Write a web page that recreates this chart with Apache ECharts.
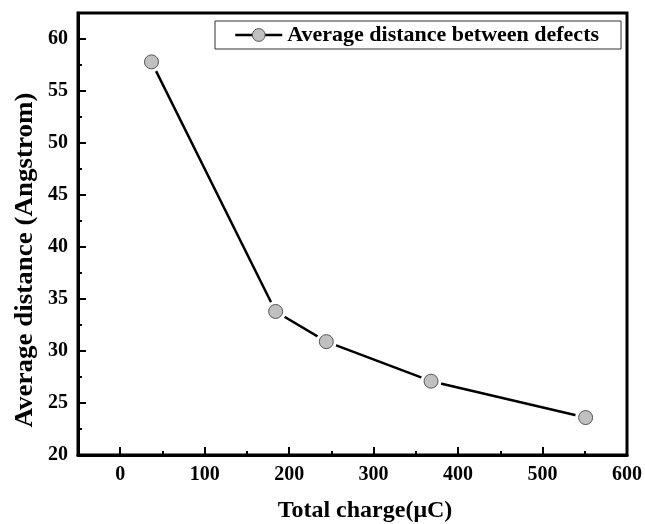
<!DOCTYPE html>
<html>
<head>
<meta charset="utf-8">
<script src="https://cdn.jsdelivr.net/npm/echarts@6/dist/echarts.min.js"></script>
<style>html,body{margin:0;padding:0;background:#fff;}#c{width:645px;height:524px;}</style>
</head>
<body>
<div id="c"></div>
<script>
const seriesName = 'Average distance between defects';
const totalCharge = [37, 184, 244, 368, 551];
const avgDistance = [57.8, 33.8, 30.9, 27.1, 23.6];
const xTicks = [0, 100, 200, 300, 400, 500, 600];
const xMinorTicks = [50, 150, 250, 350, 450, 550];
const yTicks = [20, 25, 30, 35, 40, 45, 50, 55, 60];
const yMinorTicks = [22.5, 27.5, 32.5, 37.5, 42.5, 47.5, 52.5, 57.5];
const xTitle = 'Total charge(μC)';
const yTitle = 'Average distance (Angstrom)';

const points = totalCharge.map((x, i) => [x, avgDistance[i]]);
const FONT = '"Liberation Serif", "Times New Roman", serif';
const labelStyle = { fontFamily: FONT, fontWeight: 'bold', fontSize: 20, color: '#000' };

const chart = echarts.init(document.getElementById('c'));
chart.setOption({
  animation: false,
  backgroundColor: '#fff',
  grid: { left: 78, top: 13, right: 18, bottom: 69, show: true, borderColor: '#000', borderWidth: 3, backgroundColor: 'transparent' },
  legend: {
    left: 215, top: 21,
    padding: [3, 22, 3, 19],
    borderColor: '#333', borderWidth: 1,
    itemWidth: 47, itemHeight: 16,
    textStyle: { fontFamily: FONT, fontWeight: 'bold', fontSize: 22, lineHeight: 22, color: '#000' },
    data: [{ name: seriesName, itemStyle: { color: '#c0c0c0', borderColor: '#555', borderWidth: 1 }, lineStyle: { color: '#000', width: 2.5 } }]
  },
  xAxis: [
    {
      type: 'value', min: -50, max: 600, position: 'bottom',
      axisLine: { show: true, onZero: false, lineStyle: { color: '#000', width: 3 } },
      axisTick: { show: true, inside: true, length: 8, lineStyle: { color: '#000', width: 2 }, customValues: xTicks },
      minorTick: { show: false },
      axisLabel: Object.assign({ margin: 10, customValues: xTicks }, labelStyle),
      splitLine: { show: false }
    },
    {
      type: 'value', min: -50, max: 600, position: 'bottom',
      axisLine: { show: false, onZero: false },
      axisTick: { show: true, inside: true, length: 4, lineStyle: { color: '#000', width: 2 }, customValues: xMinorTicks },
      axisLabel: { show: false },
      splitLine: { show: false }
    }
  ],
  yAxis: [
    {
      type: 'value', min: 20, max: 62.5, position: 'left',
      axisLine: { show: true, onZero: false, lineStyle: { color: '#000', width: 3 } },
      axisTick: { show: true, inside: true, length: 8, lineStyle: { color: '#000', width: 2 }, customValues: yTicks },
      axisLabel: Object.assign({ margin: 10, customValues: yTicks }, labelStyle),
      splitLine: { show: false }
    },
    {
      type: 'value', min: 20, max: 62.5, position: 'left',
      axisLine: { show: false, onZero: false },
      axisTick: { show: true, inside: true, length: 4, lineStyle: { color: '#000', width: 2 }, customValues: yMinorTicks },
      axisLabel: { show: false },
      splitLine: { show: false }
    }
  ],
  series: [
    {
      name: seriesName, type: 'line', data: points,
      xAxisIndex: 0, yAxisIndex: 0,
      symbol: 'circle', symbolSize: 21, showSymbol: true,
      itemStyle: { color: '#fff', borderWidth: 0 },
      lineStyle: { color: '#000', width: 2.5 },
      z: 2, silent: true
    },
    {
      name: seriesName + ' markers', type: 'scatter', data: points,
      xAxisIndex: 0, yAxisIndex: 0,
      symbol: 'circle', symbolSize: 14,
      itemStyle: { color: '#c0c0c0', borderColor: '#555', borderWidth: 1, opacity: 1 },
      z: 4, silent: true
    }
  ],
  graphic: [
    { type: 'text', x: 365, y: 511, style: { text: xTitle, font: 'bold 24px ' + FONT, fill: '#000', align: 'center', verticalAlign: 'middle' } },
    { type: 'text', x: 26, y: 260, rotation: Math.PI / 2, scaleX: 1.08, style: { text: yTitle, font: 'bold 25px ' + FONT, fill: '#000', align: 'center', verticalAlign: 'middle' } }
  ]
});
</script>
</body>
</html>
